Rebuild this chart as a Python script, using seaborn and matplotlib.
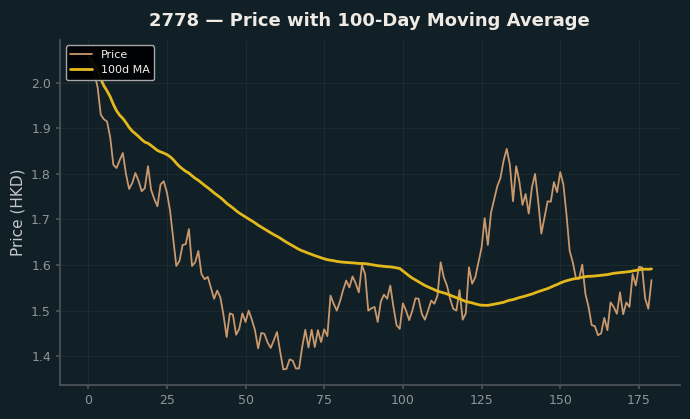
import pandas as pd
import matplotlib.pyplot as plt
import seaborn as sns

# closing prices (HKD), one per trading day
days = list(range(180))
price = [
    2.06, 2.04, 2.02, 1.99, 1.93, 1.92, 1.915, 1.88, 1.82, 1.813,
    1.83, 1.846, 1.80, 1.767, 1.78, 1.802, 1.785, 1.762, 1.769, 1.817,
    1.765, 1.745, 1.729, 1.777, 1.784, 1.76, 1.72, 1.66, 1.598, 1.609,
    1.644, 1.646, 1.679, 1.598, 1.606, 1.631, 1.580, 1.569, 1.574, 1.55,
    1.526, 1.544, 1.529, 1.49, 1.442, 1.494, 1.491, 1.447, 1.46, 1.494,
    1.475, 1.50, 1.48, 1.457, 1.417, 1.451, 1.449, 1.43, 1.418, 1.435,
    1.453, 1.41, 1.371, 1.372, 1.393, 1.39, 1.373, 1.373, 1.42, 1.458,
    1.419, 1.458, 1.420, 1.457, 1.431, 1.459, 1.444, 1.533, 1.515, 1.50,
    1.52, 1.545, 1.566, 1.551, 1.575, 1.56, 1.540, 1.600, 1.58, 1.50,
    1.505, 1.508, 1.475, 1.52, 1.535, 1.526, 1.555, 1.508, 1.468, 1.460,
    1.516, 1.50, 1.479, 1.50, 1.527, 1.526, 1.493, 1.48, 1.50, 1.522,
    1.515, 1.533, 1.606, 1.573, 1.555, 1.526, 1.504, 1.50, 1.545, 1.480,
    1.494, 1.595, 1.559, 1.573, 1.606, 1.638, 1.703, 1.644, 1.715, 1.744,
    1.773, 1.791, 1.829, 1.855, 1.820, 1.740, 1.817, 1.784, 1.732, 1.756,
    1.713, 1.770, 1.800, 1.74, 1.669, 1.704, 1.740, 1.739, 1.782, 1.760,
    1.804, 1.777, 1.71, 1.631, 1.606, 1.571, 1.57, 1.601, 1.537, 1.508,
    1.468, 1.466, 1.446, 1.45, 1.484, 1.457, 1.518, 1.508, 1.493, 1.540,
    1.492, 1.518, 1.508, 1.580, 1.555, 1.596, 1.595, 1.526, 1.504, 1.567,
]

df = pd.DataFrame({"day": days, "price": price})
df["ma"] = df["price"].rolling(100, min_periods=1).mean()

bg = "#111f26"
sns.set_theme(style="darkgrid", rc={
    "figure.facecolor": bg,
    "axes.facecolor": bg,
    "grid.color": "#1c2b32",
    "grid.linewidth": 0.8,
    "axes.edgecolor": "#4a5358",
    "xtick.color": "#8f969a",
    "ytick.color": "#8f969a",
    "xtick.bottom": True,
    "ytick.left": True,
    "axes.labelcolor": "#c4c7c9",
})
plt.rcParams["font.family"] = ["DejaVu Sans"]

fig, ax = plt.subplots(figsize=(6.9, 4.19), dpi=100)
fig.subplots_adjust(left=0.087, right=0.985, bottom=0.081, top=0.905)

sns.lineplot(data=df, x="day", y="price", ax=ax, color="#c9986c", linewidth=1.3, label="Price")
sns.lineplot(data=df, x="day", y="ma", ax=ax, color="#e3b81c", linewidth=2.0, label="100d MA")

ax.set_title("2778 — Price with 100-Day Moving Average", color="#efebe4",
             fontsize=13, fontweight="bold", pad=10)
ax.set_xlabel("")
ax.set_ylabel("Price (HKD)", fontsize=11)
ax.set_xticks([0, 25, 50, 75, 100, 125, 150, 175])
ax.set_yticks([1.4, 1.5, 1.6, 1.7, 1.8, 1.9, 2.0])
ax.tick_params(labelsize=9, length=3, color="#4a5358")
for s in ["top", "right"]:
    ax.spines[s].set_visible(False)

leg = ax.legend(loc="upper left", fontsize=8, facecolor="#000000",
                edgecolor="#b0b0b0", framealpha=0.95)
for t in leg.get_texts():
    t.set_color("#f0f0f0")

plt.savefig("out.png", facecolor=bg)
